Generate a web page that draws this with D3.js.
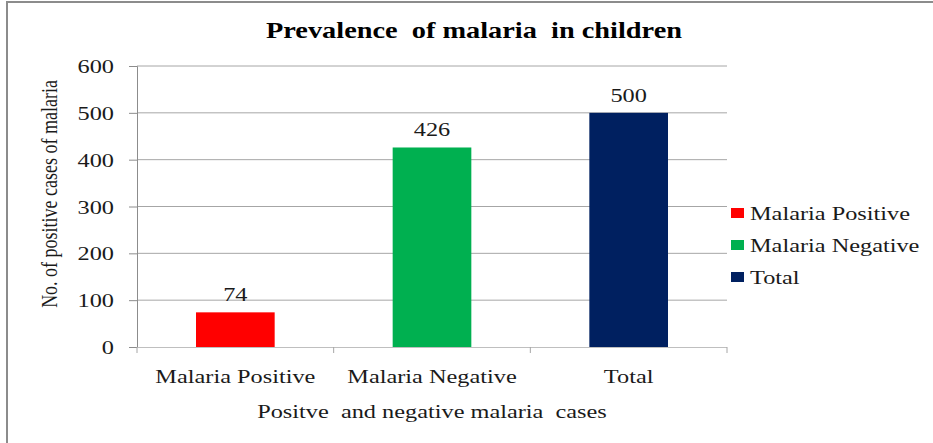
<!DOCTYPE html>
<html>
<head>
<meta charset="utf-8">
<script src="https://cdn.jsdelivr.net/npm/d3@7"></script>
<style>
  html, body { margin: 0; padding: 0; background: #fff; }
  svg { display: block; }
  svg text { font-family: "Liberation Serif", "Times New Roman", Times, serif !important; white-space: pre; }
</style>
</head>
<body>
<svg id="chart" width="933" height="443"></svg>
<script>
// Chart data
const categories = ["Malaria Positive", "Malaria Negative", "Total"];
const values = [74, 426, 500];
const colors = ["#ff0000", "#00b050", "#002060"];
const yTicks = [0, 100, 200, 300, 400, 500, 600];
const titleText = "Prevalence  of malaria  in children";
const xTitleText = "Positve  and negative malaria  cases";
const yTitleText = "No. of positive cases of malaria";

const svg = d3.select("#chart");
const W = 933, H = 443;
const plot = { left: 137, right: 727, top: 66, bottom: 347 };
const SX = 1.28;            // wide horizontal glyph proportion used for body text
const textColor = "#1a1a1a";

svg.append("rect").attr("width", W).attr("height", H).attr("fill", "#fff");

// outer frame
svg.append("rect")
  .attr("x", 7).attr("y", 2)
  .attr("width", W + 20).attr("height", H + 20)
  .attr("fill", "none").attr("stroke", "#8c8c8c").attr("stroke-width", 2);

// places a text at (tx, ty) with widened glyphs
function wideText(parent, tx, ty, str, size, anchor, extra = "", sx = SX) {
  return parent.append("text")
    .attr("transform", `translate(${tx},${ty}) scale(${sx},1)${extra}`)
    .attr("text-anchor", anchor)
    .attr("font-size", size)
    .attr("fill", textColor)
    .text(str);
}

const x = d3.scaleBand().domain(categories)
  .range([plot.left, plot.right]).paddingInner(0.6).paddingOuter(0.3);
const y = d3.scaleLinear().domain([0, 600]).range([plot.bottom, plot.top]);

// horizontal gridlines
svg.append("g").selectAll("line").data(yTicks.filter(d => d > 0)).join("line")
  .attr("x1", plot.left).attr("x2", plot.right)
  .attr("y1", d => y(d)).attr("y2", d => y(d))
  .attr("stroke", "#a6a6a6").attr("stroke-width", 1);

// y axis
const yAxis = svg.append("g").attr("transform", `translate(${plot.left},0)`)
  .call(d3.axisLeft(y).tickValues(yTicks).tickSize(8).tickPadding(0).tickFormat(d3.format("d")));
yAxis.select(".domain").attr("stroke", "#8c8c8c");
yAxis.selectAll(".tick line").attr("stroke", "#8c8c8c");
yAxis.selectAll(".tick text")
  .attr("x", 0).attr("dy", null)
  .attr("transform", `translate(-23,6.5) scale(${SX},1)`)
  .attr("font-size", 19).attr("fill", textColor);

// bars
svg.append("g").selectAll("rect").data(values).join("rect")
  .attr("x", (d, i) => x(categories[i]))
  .attr("y", d => y(d))
  .attr("width", x.bandwidth())
  .attr("height", d => y(0) - y(d))
  .attr("fill", (d, i) => colors[i]);

// x axis
const xAxis = svg.append("g").attr("transform", `translate(0,${plot.bottom})`);
xAxis.append("line").attr("x1", plot.left).attr("x2", plot.right)
  .attr("y1", 0.5).attr("y2", 0.5).attr("stroke", "#bfbfbf");
const bounds = categories.map(c => x(c) - x.step() * x.paddingInner() / 2);
bounds.push(plot.right);
xAxis.selectAll("line.tk").data(bounds).join("line").attr("class", "tk")
  .attr("x1", d => d).attr("x2", d => d).attr("y1", 0).attr("y2", 6)
  .attr("stroke", "#a6a6a6");
categories.forEach(c => wideText(xAxis, x(c) + x.bandwidth() / 2, 36, c, 19, "middle"));

// value labels
const labels = svg.append("g");
values.forEach((v, i) =>
  wideText(labels, x(categories[i]) + x.bandwidth() / 2, y(v) - 11, String(v), 19, "middle"));

// title
wideText(svg, 474, 38, titleText, 22.5, "middle", "", 1.26)
  .attr("font-weight", "bold").attr("fill", "#000");

// axis titles
wideText(svg, (plot.left + plot.right) / 2, 418, xTitleText, 19, "middle");
wideText(svg, 57, 194, yTitleText, 18, "middle", " rotate(-90)");

// legend
const legend = svg.append("g").attr("transform", "translate(731,213)");
categories.forEach((c, i) => {
  const row = legend.append("g").attr("transform", `translate(0,${i * 32})`);
  row.append("rect").attr("x", 0).attr("y", -5).attr("width", 13).attr("height", 10)
    .attr("fill", colors[i]);
  wideText(row, 19, 6.5, c, 19, "start");
});
</script>
</body>
</html>
